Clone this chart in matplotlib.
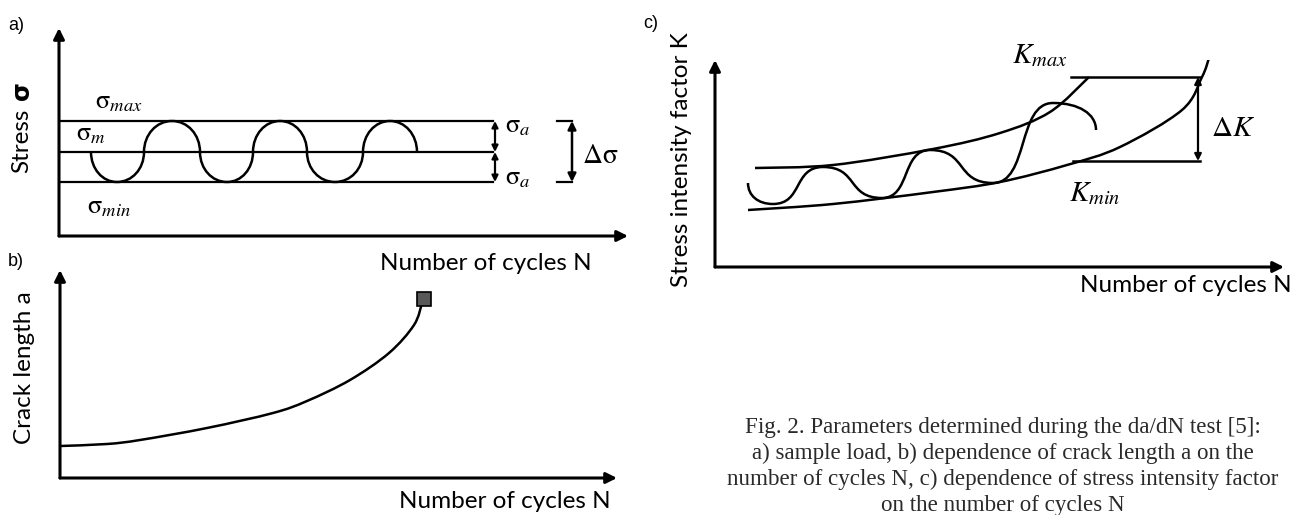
import numpy as np
import matplotlib
matplotlib.use("Agg")
import matplotlib.pyplot as plt
from matplotlib.path import Path
from matplotlib.patches import PathPatch

plt.rcParams['mathtext.fontset'] = 'stix'

# ---- data (schematic units) ----
# a) sample load
sigma_max = 115
sigma_m = 84
sigma_min = 54
level_end_N = 434
wave_a_N = [32, 58, 85, 113, 141, 168, 194, 221, 248, 276, 304, 331, 358]
wave_a_sigma = [84, 54, 84, 115, 84, 54, 84, 115, 84, 54, 84, 115, 84]

# b) crack length vs cycles
crack_N = [0, 47, 80, 147, 213, 247, 290, 329, 354, 362]
crack_a = [32, 34, 38, 50, 65, 77, 98, 125, 153, 175]
fail_N, fail_a = 364, 179

# c) stress intensity factor vs cycles
kmax_N = [40, 118, 218, 285, 335, 374]
kmax_K = [99, 102, 118, 134, 155, 190]
kmin_N = [33, 118, 218, 285, 352, 405, 467, 487, 494]
kmin_K = [57, 63, 75, 85, 102, 120, 157, 190, 209]
wave_c_N = [33, 58, 108, 167, 215, 278, 338, 381]
wave_c_K = [84, 63, 100, 69, 117, 84, 164, 137]
dk_top, dk_bot = 190, 106

caption = ["Fig. 2. Parameters determined during the da/dN test [5]:",
           "a) sample load, b) dependence of crack length a on the",
           "number of cycles N, c) dependence of stress intensity factor",
           "on the number of cycles N"]

W, H = 1294, 515
fig = plt.figure(figsize=(W / 100, H / 100), dpi=100)
fig.patch.set_facecolor('white')

SANS = ['Lato', 'DejaVu Sans']
LAB = 17.5


def box(left, top, right, bottom):
    return [left / W, 1 - bottom / H, (right - left) / W, (bottom - top) / H]


def make_axes(left, top, right, bottom):
    ax = fig.add_axes(box(left, top, right, bottom))
    ax.set_xlim(0, right - left)
    ax.set_ylim(0, bottom - top)
    ax.axis('off')
    for tip in [(1, 0), (0, 1)]:
        ax.annotate('', xy=tip, xytext=(0, 0), xycoords='axes fraction',
                    arrowprops=dict(arrowstyle='-|>', color='black', lw=2.2,
                                    mutation_scale=16, shrinkA=0, shrinkB=0),
                    annotation_clip=False)
    return ax


def smooth(ax, xs, ys, **kw):
    pts = np.column_stack([xs, ys]).astype(float)
    n = len(pts)
    verts, codes = [pts[0]], [Path.MOVETO]
    for i in range(n - 1):
        p0, p1 = pts[max(i - 1, 0)], pts[i]
        p2, p3 = pts[i + 1], pts[min(i + 2, n - 1)]
        verts += [p1 + (p2 - p0) / 6, p2 - (p3 - p1) / 6, p2]
        codes += [Path.CURVE4] * 3
    ax.add_patch(PathPatch(Path(verts, codes), fill=False, **kw))


def wave(ax, xs, ys, kinds, k=0.56, **kw):
    verts, codes = [(xs[0], ys[0])], [Path.MOVETO]
    for i in range(len(xs) - 1):
        x0, y0, x1, y1 = xs[i], ys[i], xs[i + 1], ys[i + 1]
        dx, dy = x1 - x0, y1 - y0
        c1 = (x0 + k * dx, y0) if kinds[i] == 'h' else (x0, y0 + k * dy)
        c2 = (x1 - k * dx, y1) if kinds[i + 1] == 'h' else (x1, y1 - k * dy)
        verts += [c1, c2, (x1, y1)]
        codes += [Path.CURVE4] * 3
    ax.add_patch(PathPatch(Path(verts, codes), fill=False, **kw))


def dbl_arrow(ax, x, y0, y1, ms=10, lw=1.6):
    ax.annotate('', xy=(x, y1), xytext=(x, y0),
                arrowprops=dict(arrowstyle='<|-|>', color='black', lw=lw,
                                mutation_scale=ms, shrinkA=0, shrinkB=0))


# ---------------- panel a ----------------
ax = make_axes(59, 28, 628, 236)
for lev in [sigma_max, sigma_m, sigma_min]:
    ax.plot([0, level_end_N], [lev, lev], color='black', lw=1.6)
kinds_a = ['v' if s == sigma_m else 'h' for s in wave_a_sigma]
wave(ax, wave_a_N, wave_a_sigma, kinds_a, k=0.56, color='black', lw=1.8)
dbl_arrow(ax, level_end_N + 2, sigma_m, sigma_max, ms=9)
dbl_arrow(ax, level_end_N + 2, sigma_min, sigma_m, ms=9)
ax.plot([498, 513], [sigma_max, sigma_max], color='black', lw=1.6)
ax.plot([498, 513], [sigma_min, sigma_min], color='black', lw=1.6)
dbl_arrow(ax, 513, sigma_min, sigma_max, ms=12, lw=1.8)
ax.text(60, 135, r'$\mathrm{\sigma}_{\mathbf{\mathit{max}}}$', fontsize=19, ha='center', va='center')
ax.text(32, 103, r'$\mathrm{\sigma}_{\mathbf{\mathit{m}}}$', fontsize=19, ha='center', va='center')
ax.text(50, 30, r'$\mathrm{\sigma}_{\mathbf{\mathit{min}}}$', fontsize=19, ha='center', va='center')
ax.text(446, 111, r'$\mathrm{\sigma}_{\mathit{a}}$', fontsize=19, ha='left', va='center')
ax.text(446, 59, r'$\mathrm{\sigma}_{\mathit{a}}$', fontsize=19, ha='left', va='center')
ax.text(523, 81, r'$\Delta\mathrm{\sigma}$', fontsize=20, ha='left', va='center')

# ---------------- panel b ----------------
bx = make_axes(60, 270, 617, 478)
smooth(bx, crack_N, crack_a, color='black', lw=1.8)
bx.plot([fail_N], [fail_a], marker='s', ms=9.5, mfc='#595959', mec='black', mew=1.2,
        clip_on=False)

# ---------------- panel c ----------------
cx = make_axes(715, 60, 1284, 267)
smooth(cx, kmax_N, kmax_K, color='black', lw=1.8)
smooth(cx, kmin_N, kmin_K, color='black', lw=1.8)
kinds_c = ['v'] + ['h'] * (len(wave_c_N) - 2) + ['v']
wave(cx, wave_c_N, wave_c_K, kinds_c, k=0.6, color='black', lw=1.8)
cx.plot([356, 485], [dk_top, dk_top], color='black', lw=1.8)
cx.plot([358, 485], [dk_bot, dk_bot], color='black', lw=1.8)
dbl_arrow(cx, 483, dk_bot, dk_top, ms=10, lw=1.6)
cx.text(325, 212, r'$K_{max}$', fontsize=21, ha='center', va='center')
cx.text(380, 74, r'$K_{min}$', fontsize=21, ha='center', va='center')
cx.text(496, 139, r'$\Delta K$', fontsize=21, ha='left', va='center')


# ---------------- labels ----------------
def ftext(x, y, s, **kw):
    fig.text(x / W, 1 - y / H, s, **kw)


ftext(8, 25, 'a)', fontsize=13, family=['Liberation Sans'], ha='left', va='center')
ftext(8, 262, 'b)', fontsize=13, family=['Liberation Sans'], ha='left', va='center')
ftext(643, 24, 'c)', fontsize=13, family=['Liberation Sans'], ha='left', va='center')

ftext(22, 141, 'Stress', fontsize=LAB, family=SANS, rotation=90, ha='center', va='center')
ftext(22, 91, 'σ', fontsize=LAB, family=['DejaVu Sans'], weight='bold', rotation=90,
      ha='center', va='center')
ftext(25, 368, 'Crack length a', fontsize=LAB, family=SANS, rotation=90, ha='center', va='center')
ftext(682, 160, 'Stress intensity factor K', fontsize=LAB, family=SANS, rotation=90,
      ha='center', va='center')
ftext(592, 263, 'Number of cycles N', fontsize=LAB, family=SANS, ha='right', va='center')
ftext(611, 502, 'Number of cycles N', fontsize=LAB, family=SANS, ha='right', va='center')
ftext(1292, 285, 'Number of cycles N', fontsize=LAB, family=SANS, ha='right', va='center')

for i, line in enumerate(caption):
    ftext(1003, 427 + 26 * i, line, fontsize=16.6, family=['Liberation Serif'],
          ha='center', va='center', color='#2a2a2a')

fig.savefig('out.png', dpi=100, facecolor='white')
